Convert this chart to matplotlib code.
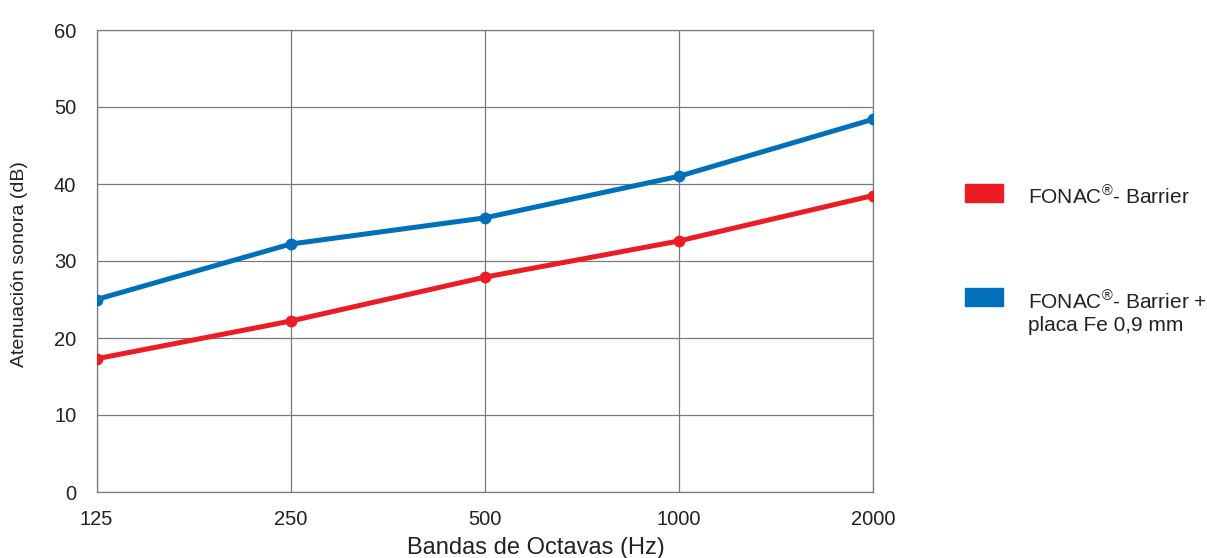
import matplotlib
matplotlib.use("Agg")
import matplotlib.pyplot as plt
from matplotlib.patches import Rectangle

plt.rcParams['font.family'] = ['Liberation Sans', 'DejaVu Sans']
plt.rcParams['mathtext.fontset'] = 'custom'
plt.rcParams['mathtext.rm'] = 'Liberation Sans'
plt.rcParams['mathtext.it'] = 'Liberation Sans:italic'
plt.rcParams['mathtext.bf'] = 'Liberation Sans:bold'

bands = ['125', '250', '500', '1000', '2000']
barrier = [17.3, 22.2, 27.9, 32.6, 38.5]
barrier_fe = [25.0, 32.2, 35.6, 41.0, 48.4]
series_names = ["FONAC$^{\\mathrm{®}}$- Barrier",
                "FONAC$^{\\mathrm{®}}$- Barrier +\nplaca Fe 0,9 mm"]
series_colors = ['#ED1C24', '#0070BA']
yticks = [0, 10, 20, 30, 40, 50, 60]

W, H = 1207, 558
L, R, T, B = 96.5, 873, 30, 492
fig = plt.figure(figsize=(W / 100, H / 100), dpi=100)
ax = fig.add_axes([L / W, 1 - B / H, (R - L) / W, (B - T) / H])

x = list(range(len(bands)))
for vals, c in zip([barrier, barrier_fe], series_colors):
    ax.plot(x, vals, color=c, lw=3.6, marker='o', ms=7.5, solid_capstyle='round', zorder=3)

ax.set_xlim(0, len(bands) - 1)
ax.set_ylim(0, 60)
ax.set_xticks(x)
ax.set_xticklabels(bands)
ax.set_yticks(yticks)
ax.set_yticklabels([str(v) for v in yticks])
ax.grid(True, color='#7a7a7a', lw=0.9)
ax.set_axisbelow(True)
for s in ax.spines.values():
    s.set_color('#7a7a7a')
    s.set_linewidth(0.9)
ax.tick_params(length=0, labelsize=14.5, colors='#222222')
ax.tick_params(axis='x', pad=13)
ax.tick_params(axis='y', pad=14.5)
ax.set_xlabel('Bandas de Octavas (Hz)', fontsize=17, color='#222222')
ax.xaxis.set_label_coords((535.5 - L) / (R - L), -(537 - B) / (B - T))
ax.set_ylabel('Atenuación sonora (dB)', fontsize=14, color='#222222')
ax.yaxis.set_label_coords(-(L - 28) / (R - L), (B - 264) / (B - T))

# legend
leg_y = [193, 297]
text_top = [185, 290]
for name, c, yc, yt in zip(series_names, series_colors, leg_y, text_top):
    fig.patches.append(Rectangle((965 / W, 1 - (yc + 9) / H), 38 / W, 18 / H,
                                 transform=fig.transFigure, color=c, figure=fig))
    fig.text(1028 / W, 1 - yt / H, name, fontsize=15, color='#222222',
             va='top', ha='left', linespacing=1.2)

fig.savefig('out.png', dpi=100)
